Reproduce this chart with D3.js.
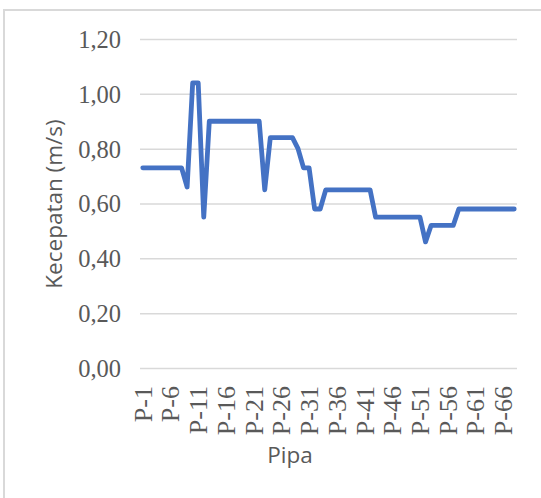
<!DOCTYPE html>
<html>
<head>
<meta charset="utf-8">
<script src="https://cdn.jsdelivr.net/npm/d3@7"></script>
<style>
  body { margin: 0; background: #fff; }
  svg { display: block; }
</style>
</head>
<body>
<svg id="chart" width="541" height="498"></svg>
<script>
// pipe velocities, P-1 .. P-68
var pipes = d3.range(1, 69).map(function (i) { return "P-" + i; });
var velocity = [
    0.73, 0.73, 0.73, 0.73, 0.73, 0.73, 0.73, 0.73, 0.66, 1.04,
    1.04, 0.55, 0.90, 0.90, 0.90, 0.90, 0.90, 0.90, 0.90, 0.90,
    0.90, 0.90, 0.65, 0.84, 0.84, 0.84, 0.84, 0.84, 0.80, 0.73,
    0.73, 0.58, 0.58, 0.65, 0.65, 0.65, 0.65, 0.65, 0.65, 0.65,
    0.65, 0.65, 0.55, 0.55, 0.55, 0.55, 0.55, 0.55, 0.55, 0.55,
    0.55, 0.46, 0.52, 0.52, 0.52, 0.52, 0.52, 0.58, 0.58, 0.58,
    0.58, 0.58, 0.58, 0.58, 0.58, 0.58, 0.58, 0.58
];
var yTicks = [0, 0.2, 0.4, 0.6, 0.8, 1.0, 1.2];
var xTickLabels = pipes.filter(function (d, i) { return i % 5 === 0; });

var svg = d3.select("#chart");
var plotLeft = 140, plotRight = 517, plotTop = 39, plotBottom = 368;

// outer chart frame (only left and top edges fall inside the picture)
svg.append("rect")
    .attr("x", 4).attr("y", 10)
    .attr("width", 560).attr("height", 520)
    .attr("fill", "none")
    .attr("stroke", "#d9d9d9")
    .attr("stroke-width", 2);

var x = d3.scalePoint().domain(pipes).range([plotLeft, plotRight]).padding(0.5);
var y = d3.scaleLinear().domain([0, 1.2]).range([plotBottom, plotTop]);

var fmt = d3.formatLocale({ decimal: ",", thousands: ".", grouping: [3], currency: ["", ""] }).format(".2f");

// y axis + gridlines
var yAxis = svg.append("g")
    .attr("transform", "translate(" + plotLeft + ",0)")
    .call(d3.axisLeft(y).tickValues(yTicks).tickSize(-(plotRight - plotLeft)).tickPadding(19).tickFormat(fmt));
yAxis.select(".domain").remove();
yAxis.selectAll(".tick line").attr("stroke", "#d9d9d9").attr("stroke-width", 1.5);
yAxis.selectAll(".tick text")
    .attr("fill", "#595959")
    .attr("font-family", "'Liberation Serif', 'Times New Roman', serif")
    .attr("font-size", 24.5)
    .attr("dy", "0.34em");

// x axis labels, rotated
var xAxis = svg.append("g")
    .attr("transform", "translate(0," + plotBottom + ")")
    .call(d3.axisBottom(x).tickValues(xTickLabels).tickSize(0));
xAxis.select(".domain").remove();
xAxis.selectAll(".tick text")
    .attr("fill", "#595959")
    .attr("font-family", "'Liberation Serif', 'Times New Roman', serif")
    .attr("font-size", 26)
    .attr("text-anchor", "end")
    .attr("dy", null)
    .attr("y", 0)
    .attr("transform", "translate(8.5,18) rotate(-90)");

// line
var line = d3.line()
    .x(function (d, i) { return x(pipes[i]); })
    .y(function (d) { return y(d); });

svg.append("path")
    .datum(velocity)
    .attr("d", line)
    .attr("fill", "none")
    .attr("stroke", "#4472c4")
    .attr("stroke-width", 4.8)
    .attr("stroke-linejoin", "round")
    .attr("stroke-linecap", "round");

// axis titles
svg.append("text")
    .attr("transform", "translate(62,204) rotate(-90)")
    .attr("text-anchor", "middle")
    .attr("fill", "#595959")
    .attr("font-family", "'Open Sans', sans-serif")
    .attr("font-size", 22.5)
    .text("Kecepatan (m/s)");

svg.append("text")
    .attr("x", 290).attr("y", 463)
    .attr("text-anchor", "middle")
    .attr("fill", "#595959")
    .attr("font-family", "'Open Sans', sans-serif")
    .attr("font-size", 22.5)
    .text("Pipa");
</script>
</body>
</html>
